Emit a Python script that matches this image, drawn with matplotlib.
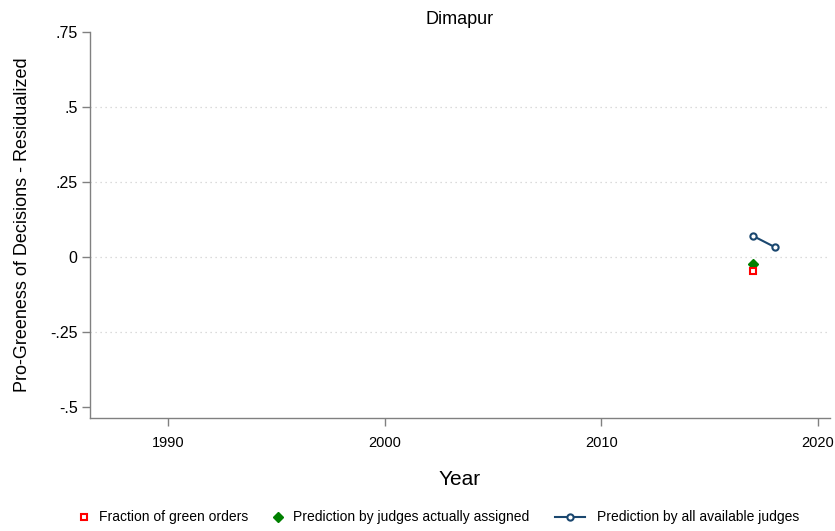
import matplotlib
matplotlib.use("Agg")
import matplotlib.pyplot as plt
from matplotlib.lines import Line2D

plt.rcParams['font.family'] = ['Liberation Sans', 'DejaVu Sans']

title = "Dimapur"
years_green = [2017]
fraction_green = [-0.047]
years_assigned = [2017]
pred_assigned = [-0.023]
years_all = [2017, 2018]
pred_all = [0.070, 0.033]

yticks = [0.75, 0.5, 0.25, 0, -0.25, -0.5]
yticklabels = [".75", ".5", ".25", "0", "-.25", "-.5"]
xticks = [1990, 2000, 2010, 2020]
legend_labels = ["Fraction of green orders", "Prediction by judges actually assigned",
                 "Prediction by all available judges"]

W, H = 835, 531
fig = plt.figure(figsize=(W / 100, H / 100), dpi=100)
ax = fig.add_axes([0.1078, 0.2128, 0.8862, 0.7269])

navy = "#1a476f"
red = "#ff0000"
green = "#008000"
ax.plot(years_all, pred_all, color=navy, lw=1.5, marker='o', ms=4.5,
        mfc='white', mec=navy, mew=1.5, zorder=3)
ax.plot(years_assigned, pred_assigned, ls='none', marker='D', ms=5.5,
        color=green, zorder=4)
ax.plot(years_green, fraction_green, ls='none', marker='s', ms=5,
        mfc='white', mec=red, mew=1.5, zorder=5)

ax.set_xlim(1986.4, 2020.55)
ax.set_ylim(-0.537, 0.75)
ax.set_yticks(yticks)
ax.set_yticklabels(yticklabels)
ax.set_xticks(xticks)
for y in [0.5, 0.25, 0, -0.25]:
    ax.axhline(y, color='#d0d0d0', lw=0.9, ls=(0, (1, 3)), zorder=1)

for s in ['top', 'right']:
    ax.spines[s].set_visible(False)
for s in ['left', 'bottom']:
    ax.spines[s].set_color('#808080')
    ax.spines[s].set_linewidth(1.0)
ax.tick_params(axis='both', colors='#808080', length=6, width=1.0,
               labelcolor='black')
ax.tick_params(axis='y', pad=3, labelsize=11.5)
ax.tick_params(axis='x', pad=7, labelsize=10.5)

ax.set_title(title, fontsize=13, pad=6)
ax.set_xlabel("Year", fontsize=15, labelpad=14)
ax.set_ylabel("Pro-Greeness of Decisions - Residualized", fontsize=13, labelpad=14)

# legend row (manual placement to mimic Stata's legend layout)
ly = 1 - 517 / H
def fx(px):
    return px / W
fig.add_artist(Line2D([fx(84)], [ly], transform=fig.transFigure, ls='none',
                      marker='s', ms=5, mfc='white', mec=red, mew=1.5))
fig.add_artist(Line2D([fx(278)], [ly], transform=fig.transFigure, ls='none',
                      marker='D', ms=5.5, color=green))
fig.add_artist(Line2D([fx(555), fx(585)], [ly, ly], transform=fig.transFigure,
                      color=navy, lw=1.5))
fig.add_artist(Line2D([fx(570)], [ly], transform=fig.transFigure, ls='none',
                      marker='o', ms=4.5, mfc='white', mec=navy, mew=1.5))
for px, lab in zip([99, 293, 597], legend_labels):
    fig.text(fx(px), ly, lab, fontsize=10, ha='left', va='center')

fig.savefig("out.png", dpi=100)
